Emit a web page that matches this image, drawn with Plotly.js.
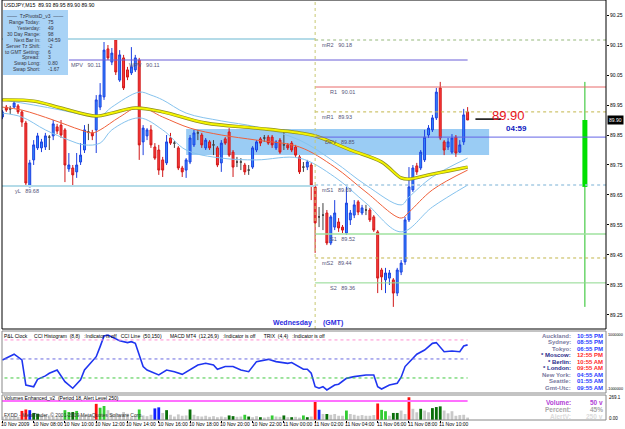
<!DOCTYPE html>
<html><head><meta charset="utf-8">
<script src="https://cdn.plot.ly/plotly-3.0.1.min.js"></script>
<style>html,body{margin:0;padding:0;background:#fff}#chart{width:625px;height:429px}</style>
</head><body><div id="chart"></div><script>
// ---------------- DATA ----------------
const tickLabels = ['10 Nov 2009','10 Nov 08:00','10 Nov 10:00','10 Nov 12:00','10 Nov 14:00','10 Nov 16:00','10 Nov 18:00','10 Nov 20:00','10 Nov 22:00','11 Nov 00:00','11 Nov 02:00','11 Nov 04:00','11 Nov 06:00','11 Nov 08:00','11 Nov 10:00'];
const tickBars = [0,8,16,24,32,40,48,56,64,72,80,88,96,104,112];
const priceTicks = [89.25,89.35,89.45,89.55,89.65,89.75,89.85,89.95,90.05,90.15,90.25];

const open = [89.910,89.943,89.937,89.943,89.947,89.927,89.890,89.677,89.767,89.807,
89.807,89.810,89.843,89.847,89.877,89.883,89.867,89.737,89.740,89.727,
89.760,89.800,89.860,89.857,89.867,89.943,89.977,90.137,90.093,90.167,
90.033,90.107,90.067,90.057,90.067,90.100,89.827,89.847,89.867,89.810,
89.800,89.767,89.757,89.840,89.823,89.807,89.740,89.733,89.760,89.817,
89.857,89.850,89.807,89.827,89.817,89.807,89.757,89.837,89.860,89.793,
89.760,89.760,89.750,89.733,89.743,89.800,89.837,89.840,89.843,89.843,
89.807,89.833,89.817,89.817,89.823,89.810,89.777,89.743,89.743,89.750,
89.677,89.577,89.583,89.590,89.490,89.543,89.560,89.543,89.523,89.567,
89.583,89.627,89.590,89.600,89.600,89.577,89.527,89.400,89.367,89.373,
89.367,89.323,89.393,89.427,89.567,89.667,89.747,89.740,89.767,89.850,
89.867,89.907,90.007,89.827,89.810,89.793,89.843,89.793,89.827,89.927];
const high = [89.933,89.950,89.947,89.963,89.953,89.933,89.897,89.767,89.833,89.857,
89.837,89.857,89.850,89.900,89.887,89.900,89.873,89.790,89.750,89.790,
89.823,89.883,89.887,89.867,89.983,90.023,90.160,90.150,90.140,90.173,
90.133,90.117,90.077,90.143,90.117,90.107,89.883,89.873,89.883,89.823,
89.817,89.777,89.850,89.857,89.830,89.813,89.747,89.773,89.850,89.867,
89.867,89.857,89.840,89.833,89.833,89.813,89.833,89.843,89.873,89.800,
89.777,89.773,89.757,89.750,89.813,89.833,89.843,89.850,89.850,89.850,
89.833,89.840,89.867,89.823,89.830,89.817,89.783,89.760,89.767,89.757,
89.683,89.610,89.623,89.600,89.583,89.633,89.573,89.550,89.677,89.600,
89.633,89.633,89.617,89.617,89.607,89.583,89.533,89.407,89.407,89.400,
89.373,89.407,89.433,89.577,89.743,89.750,89.757,89.800,89.867,89.883,
89.917,90.007,90.027,89.833,89.840,89.853,89.850,89.833,89.937,89.943];
const low = [89.903,89.927,89.920,89.940,89.920,89.877,89.677,89.677,89.750,89.800,
89.793,89.800,89.800,89.833,89.853,89.840,89.693,89.727,89.683,89.707,
89.750,89.790,89.833,89.833,89.790,89.933,89.967,90.100,90.083,90.050,
90.027,90.000,90.033,90.050,90.060,89.767,89.783,89.833,89.807,89.767,
89.717,89.710,89.750,89.817,89.807,89.733,89.710,89.707,89.753,89.810,
89.833,89.807,89.800,89.800,89.783,89.743,89.727,89.817,89.777,89.710,
89.743,89.733,89.717,89.717,89.737,89.793,89.813,89.827,89.817,89.807,
89.800,89.787,89.800,89.800,89.793,89.777,89.720,89.727,89.733,89.633,
89.457,89.543,89.533,89.483,89.483,89.533,89.527,89.523,89.517,89.550,
89.573,89.583,89.583,89.583,89.560,89.527,89.323,89.333,89.323,89.350,
89.277,89.313,89.383,89.417,89.560,89.660,89.717,89.733,89.760,89.840,
89.860,89.900,89.833,89.783,89.800,89.787,89.777,89.790,89.817,89.900];
const close = [89.927,89.933,89.937,89.957,89.927,89.893,89.690,89.757,89.817,89.847,
89.827,89.847,89.843,89.887,89.863,89.850,89.750,89.750,89.717,89.750,
89.783,89.867,89.860,89.847,89.967,89.983,90.133,90.107,90.123,90.060,
90.117,90.007,90.043,90.077,90.107,89.817,89.873,89.867,89.817,89.773,
89.733,89.733,89.827,89.823,89.823,89.740,89.727,89.767,89.840,89.857,
89.857,89.817,89.833,89.807,89.817,89.750,89.823,89.823,89.783,89.743,
89.760,89.760,89.727,89.733,89.807,89.827,89.823,89.840,89.823,89.817,
89.827,89.793,89.817,89.807,89.800,89.783,89.727,89.743,89.760,89.683,
89.557,89.577,89.583,89.490,89.577,89.590,89.540,89.533,89.623,89.590,
89.617,89.593,89.607,89.600,89.567,89.533,89.373,89.377,89.390,89.390,
89.323,89.400,89.423,89.567,89.677,89.740,89.727,89.793,89.843,89.873,
89.907,89.993,89.840,89.800,89.827,89.840,89.790,89.817,89.917,89.900];

// Moving average (yellow) and envelope bands, read at sample bars
const emaBars = [0,8,15,24,28,34,41,52,65,76,80,89,97,102,104,109,114,119];
const emaVals = [89.967,89.963,89.940,89.913,89.923,89.940,89.927,89.890,89.873,89.857,89.847,89.800,89.760,89.707,89.703,89.717,89.730,89.743];
const upBars = [0,8,15,21,25,28,35,38,41,47,56,65,76,85,93,102,104,110,119];
const upVals = [89.967,89.950,89.933,89.917,89.913,89.943,89.993,89.983,89.967,89.923,89.897,89.877,89.833,89.760,89.683,89.617,89.643,89.710,89.773];
const midBars = [0,5,13,20,23,25,30,35,41,48,56,65,76,85,93,102,104,110,119];
const midVals = [89.943,89.933,89.900,89.867,89.857,89.867,89.910,89.943,89.910,89.873,89.850,89.833,89.810,89.743,89.660,89.573,89.593,89.667,89.733];
const loBars = [0,5,11,17,21,25,28,35,41,47,56,65,76,85,93,102,110,119];
const loVals = [89.923,89.910,89.867,89.833,89.817,89.823,89.867,89.907,89.867,89.800,89.773,89.767,89.773,89.710,89.623,89.527,89.610,89.683];

// Pivot levels (today) and yesterday levels
const pivotNames = ['mR2','R1','mR1','DPV','mS1','S1','mS2','S2'];
const pivotLevels = [90.167,90.010,89.927,89.843,89.683,89.520,89.440,89.357];
const pivotText = ['90.18','90.01','89.93','89.85','89.69','89.52','89.44','89.36'];
const yesterdayHigh = 90.17, yesterdayLow = 89.68;
const mpvLevel = 90.10, mpvText = '90.11';
const dayStartBar = 80;
const zoneLow = 89.783, zoneHigh = 89.870, zoneFrom = 47, zoneTo = 124.5;
const lastPrice = 89.90, barTimer = '04:59';
const daily = {open: 89.677, high: 90.027, low: 89.277, close: 89.90, bar: 149};

// CCI line (indicator window)
const cciBars = [0,3,5,6,8,9,11,12,14,16,18,20,21,24,25,26,27,29,30,32,33,34,36,37,40,42,44,46,48,50,52,54,55,57,59,61,63,65,68,70,73,74,77,78,79,80,81,82,83,85,86,88,90,93,95,96,97,99,101,102,103,105,106,108,110,111,113,115,117,118,119];
const cciVals = [-5,25,-5,-137,-146,-107,-89,-75,-58,-119,-154,-110,-58,12,65,121,126,104,96,86,91,82,-40,-58,-84,-58,-67,-81,-58,-32,-23,-32,-54,-40,-40,-58,-67,-14,-2,-14,-23,-19,-54,-54,-75,-146,-154,-146,-163,-137,-133,-102,-93,-84,-84,-146,-158,-137,-128,-96,-40,4,25,47,82,86,38,42,38,68,74];
const cciLevels = [100, 0, -100];

// Volumes
const volume = [46,56,37,51,42,120,139,130,93,83, 60,69,60,51,37,56,130,106,106,120,
65,60,60,46,213,162,185,130,83,60, 69,106,83,37,56,139,60,51,69,153,
167,93,130,69,46,74,56,60,139,69, 51,46,56,42,51,37,46,37,60,51,
42,46,69,46,37,51,37,32,42,60, 46,42,60,37,37,42,32,60,37,46,
243,135,79,79,69,79,56,56,125,79, 69,56,65,56,56,65,218,134,116,56,
93,93,125,79,300,148,102,148,125,102, 157,171,180,125,88,116,56,65,69,32];
const volClass = ('gggggRRBDD'+'ggggggGGDG'+'ggggRGGggg'+'gggggGgggB'+'BgDgggggDg'+
  'ggggggggDD'+'ggGDggDggG'+'ggDgDggGDg'+'RBgDggggGg'+'ggggggRGGg'+'DDggRggDgg'+'DDDggggggg').split('');
const volAlert = 250;

const infoLabels = ['Range Today:','Yesterday:','30 Day Range:','Next Bar In:','Server Tz Shift:','to GMT Setting:','Spread:','Swap Long:','Swap Short:'];
const infoValues = ['75','49','98','04:59','-2','6','3','0.80','-1.67'];
const cities = ['Auckland:','Sydney:','Tokyo:','* Moscow:','* Berlin:','* London:','New York:','Seattle:','Gmt-Utc:'];
const cityTimes = ['10:55 PM','08:55 PM','06:55 PM','12:55 PM','10:55 AM','09:55 AM','04:55 AM','01:55 AM','09:55 AM'];
const cityStar = [0,0,0,1,1,1,0,0,0];

// ---------------- DRAWING ----------------
const F = 'Liberation Sans, Arial, sans-serif';
const W = 625, H = 429, ML = 2, MR = 19, MT = 0, MB = 9;
const PW = W - ML - MR, PH = H - MT - MB;
const px = p => (p - ML) / PW;           // pixel x -> paper
const py = p => (PH - (p - MT)) / PH;    // pixel y -> paper
const idx = open.map((_, i) => i);
const lastBar = idx[idx.length - 1];

function pick(pred) {
  const o = {x: [], open: [], high: [], low: [], close: []};
  idx.forEach(i => { if (pred(i)) { o.x.push(i); o.open.push(open[i]); o.high.push(high[i]); o.low.push(low[i]); o.close.push(close[i]); } });
  return o;
}
function candle(d, lc, fc) {
  return Object.assign({type: 'candlestick', xaxis: 'x', yaxis: 'y', whiskerwidth: 0, hoverinfo: 'skip',
    increasing: {line: {color: lc, width: 1}, fillcolor: fc},
    decreasing: {line: {color: lc, width: 1}, fillcolor: fc}}, d);
}
const traces = [];
traces.push(candle(pick(i => close[i] > open[i]), '#1c3fe0', '#2f8cff'));
traces.push(candle(pick(i => close[i] < open[i]), '#d01818', '#ff3b3b'));
traces.push(candle(pick(i => close[i] === open[i]), '#404040', '#404040'));

const line = (x, y, color, width, shape) => ({type: 'scatter', mode: 'lines', x, y, xaxis: 'x', yaxis: 'y', hoverinfo: 'skip', line: {color, width, shape: shape || 'linear'}});
traces.push(line(upBars, upVals, '#86c3ee', 1, 'spline'));
traces.push(line(loBars, loVals, '#86c3ee', 1, 'spline'));
traces.push(line(midBars, midVals, '#f0603a', 1, 'spline'));
traces.push(line(emaBars, emaVals, '#8f8f20', 3.4, 'spline'));
traces.push(line(emaBars, emaVals, '#f4f400', 2.0, 'spline'));

// daily candle on the right
traces.push(line([daily.bar, daily.bar], [daily.low, daily.high], '#22c022', 1));
traces.push(line([daily.bar, daily.bar], [daily.open, daily.close], '#00e000', 5));

// CCI
traces.push({type: 'scatter', mode: 'lines', x: cciBars, y: cciVals, xaxis: 'x', yaxis: 'y2', hoverinfo: 'skip', line: {color: '#1f35f0', width: 1.6}});

// Volume
const volColors = {g: '#c9c9c9', G: '#33cc33', D: '#0a6f0a', R: '#ff1010', B: '#1020ff'};
traces.push({type: 'bar', x: idx, y: volume, xaxis: 'x', yaxis: 'y3', width: 0.72, hoverinfo: 'skip',
  marker: {color: volClass.map(c => volColors[c]), line: {width: 0}}});

const shapes = [];
shapes.push({type: 'rect', xref: 'x', yref: 'y', x0: zoneFrom, x1: zoneTo, y0: zoneLow, y1: zoneHigh, layer: 'below', line: {width: 0}, fillcolor: 'rgba(92,172,238,0.62)'});
[yesterdayHigh, yesterdayLow].forEach(v => shapes.push({type: 'line', xref: 'x', yref: 'y', x0: -1, x1: dayStartBar, y0: v, y1: v, line: {color: '#b4dbe8', width: 2}}));
const pivStyle = {mR2: ['#b9cfa8', 1.5, 'dot'], R1: ['#e86a6a', 1, 'solid'], mR1: ['#c2b64a', 1, 'dot'], DPV: ['#6464e6', 1, 'solid'], mS1: ['#a6cbe3', 1.5, 'dot'], S1: ['#9fe29f', 1.5, 'solid'], mS2: ['#c2b64a', 1, 'dot'], S2: ['#8ed88e', 1, 'solid']};
pivotNames.forEach((n, k) => {
  const s = pivStyle[n];
  shapes.push({type: 'line', xref: 'x', yref: 'y', x0: dayStartBar, x1: 160, y0: pivotLevels[k], y1: pivotLevels[k], line: {color: s[0], width: s[1], dash: s[2]}});
});
shapes.push({type: 'line', xref: 'x', yref: 'y', x0: 17, x1: lastBar, y0: mpvLevel, y1: mpvLevel, line: {color: '#6a5fd8', width: 1}});
shapes.push({type: 'line', xref: 'x', yref: 'paper', x0: dayStartBar, x1: dayStartBar, y0: py(329), y1: 1, line: {color: '#c8c872', width: 1, dash: 'dot'}});
shapes.push({type: 'line', xref: 'x', yref: 'y', x0: 121, x1: 127.5, y0: lastPrice + 0.003, y1: lastPrice + 0.003, line: {color: '#000', width: 1.5}});
const cciCol = ['#ff8fd0', '#6a6ae0', '#40c840'];
cciLevels.forEach((v, k) => shapes.push({type: 'line', xref: 'x', yref: 'y2', x0: -1, x1: lastBar, y0: v, y1: v, line: {color: cciCol[k], width: 1, dash: 'dot'}}));
shapes.push({type: 'line', xref: 'x', yref: 'y3', x0: -1, x1: lastBar, y0: volAlert, y1: volAlert, line: {color: '#ff70ff', width: 2}});
shapes.push({type: 'rect', xref: 'paper', yref: 'paper', x0: px(3), x1: px(68), y0: py(75), y1: py(10), line: {width: 0}, fillcolor: '#a9d3f6'});
[['y', '#000'], ['y2', '#888'], ['y3', '#888']].forEach(([a, c]) => shapes.push({type: 'rect', xref: 'paper', yref: a + ' domain', x0: 0, x1: 1, y0: 0, y1: 1, line: {color: c, width: 1}}));

const ann = [];
const A = (x, y, text, o) => ann.push(Object.assign({xref: 'paper', yref: 'paper', x: px(x), y: py(y), text, showarrow: false, xanchor: 'left', yanchor: 'middle', borderpad: 0, font: {family: F, size: 5, color: '#000'}}, o || {}));
A(3, 5, 'USDJPY,M15  89.93 89.95 89.90 89.90', {font: {family: F, size: 5.2, color: '#000'}});
A(35, 16, '——  TzPivotsD_v3  ——', {xanchor: 'center', font: {family: F, size: 5, color: '#334'}});
infoLabels.forEach((t, k) => {
  const yy = 22 + k * 5.9;
  A(41, yy, t, {xanchor: 'right', font: {family: F, size: 5, color: '#334'}});
  A(47, yy, infoValues[k], {font: {family: F, size: 5, color: '#334'}});
});
const pivShift = {mR2: 6, R1: 14, mR1: 6, DPV: 9, mS1: 6, S1: 14, mS2: 6, S2: 14};
const lab = (x, y, text, xs, o) => ann.push(Object.assign({xref: 'x', yref: 'y', x, y, xshift: xs, yshift: -1, xanchor: 'left', yanchor: 'top', showarrow: false, borderpad: 0, text, font: {family: F, size: 5.5, color: '#55557a'}}, o || {}));
pivotNames.forEach((n, k) => lab(dayStartBar, pivotLevels[k], n + '   ' + pivotText[k], pivShift[n]));
lab(17, mpvLevel, 'MPV   ' + mpvText, 1);
lab(32, mpvLevel, 'WPV   ' + mpvText, 1);
lab(3, yesterdayLow, 'yL   ' + yesterdayLow.toFixed(2), 0);
ann.push({xref: 'x', yref: 'y', x: 125, y: lastPrice, yshift: 5, xanchor: 'left', yanchor: 'middle', showarrow: false, borderpad: 0, text: lastPrice.toFixed(2), font: {family: F, size: 13, color: '#e8141e'}});
ann.push({xref: 'x', yref: 'y', x: 128.5, y: lastPrice, yshift: -8, xanchor: 'left', yanchor: 'middle', showarrow: false, borderpad: 0, text: '<b>' + barTimer + '</b>', font: {family: F, size: 8, color: '#1020c0'}});
ann.push({xref: 'paper', yref: 'y', x: 1, y: lastPrice, xanchor: 'left', yanchor: 'middle', showarrow: false, text: lastPrice.toFixed(2), bgcolor: '#000', borderpad: 1, xshift: 1, font: {family: F, size: 5, color: '#fff'}});
// x-axis labels, placed at the bars' positions on the shared x scale
tickLabels.forEach((t, k) => ann.push({xref: 'x', yref: 'paper', x: tickBars[k], y: py(424), xanchor: 'left', yanchor: 'middle', xshift: -2, showarrow: false, borderpad: 0, text: t, font: {family: F, size: 5, color: '#000'}}));
A(313, 323, '<b>Wednesday</b>', {xanchor: 'right', font: {family: F, size: 7, color: '#2b2be0'}});
A(322, 323, '<b>(GMT)</b>', {font: {family: F, size: 7, color: '#2b2be0'}});
A(3, 336, 'P&L Clock     CCI Histogram  (8,8)   :Indicator is off   CCI Line  (50,150)      MACD MT4  (12,26,9)   :Indicator is off      TRIX  (4,4)   :Indicator is off', {font: {family: F, size: 5, color: '#000'}});
cities.forEach((c, k) => {
  const yy = 336 + k * 6.45;
  A(572, yy, '<b>' + c + '</b>', {xanchor: 'right', font: {family: F, size: 6, color: cityStar[k] ? '#2a2a8a' : '#7a7aa0'}});
  A(604, yy, '<b>' + cityTimes[k] + '</b>', {xanchor: 'right', font: {family: F, size: 6, color: cityStar[k] ? '#ff2a2a' : '#2840ff'}});
});
A(3, 398, 'Volumes Enhanced_v2  (Period 18, Alert Level 250)', {font: {family: F, size: 5, color: '#000'}});
A(3, 415, 'FXDD - MetaTrader, © 2001-2009 MetaQuotes Software Corp.', {font: {family: F, size: 5, color: '#333'}});
A(572, 402, '<b>Volume:</b>', {xanchor: 'right', font: {family: F, size: 6.5, color: '#b23fd6'}});
A(604, 402, '<b>50 v</b>', {xanchor: 'right', font: {family: F, size: 6.5, color: '#b23fd6'}});
A(572, 409, '<b>Percent:</b>', {xanchor: 'right', font: {family: F, size: 6.5, color: '#a8a8a8'}});
A(604, 409, '<b>45%</b>', {xanchor: 'right', font: {family: F, size: 6.5, color: '#a8a8a8'}});
A(572, 416, '<b>AlertV:</b>', {xanchor: 'right', font: {family: F, size: 6.5, color: '#dcdcdc'}});
A(604, 416, '<b>250 v</b>', {xanchor: 'right', font: {family: F, size: 6.5, color: '#dcdcdc'}});
A(624, 335, '1000000', {xanchor: 'right', font: {family: F, size: 3.8, color: '#000'}});
A(624, 389, '-1000000', {xanchor: 'right', font: {family: F, size: 3.8, color: '#000'}});
A(608, 397, '269.1', {font: {family: F, size: 4.5, color: '#000'}});
A(608, 418, '0.00', {font: {family: F, size: 4.5, color: '#000'}});

const layout = {
  width: W, height: H, margin: {l: ML, r: MR, t: MT, b: MB}, showlegend: false, hovermode: false,
  paper_bgcolor: '#fff', plot_bgcolor: '#fff', dragmode: false,
  xaxis: {range: [-0.1, 154.4], anchor: 'y3', tickmode: 'array', tickvals: tickBars, showticklabels: false,
    ticks: 'outside', ticklen: 2, tickcolor: '#000',
    showgrid: false, zeroline: false, showline: false, rangeslider: {visible: false}, fixedrange: true},
  yaxis: {domain: [py(329), 1], range: [89.2033, 90.30], side: 'right', tickmode: 'array', tickvals: priceTicks,
    ticktext: priceTicks.map(v => v.toFixed(2)), ticks: 'outside', ticklen: 2, tickcolor: '#000',
    tickfont: {family: F, size: 5, color: '#000'}, showgrid: false, zeroline: false, showline: false, fixedrange: true},
  yaxis2: {domain: [py(393), py(331)], range: [-179, 147], side: 'right', showticklabels: false, ticks: '', showgrid: false, zeroline: false, fixedrange: true},
  yaxis3: {domain: [0, py(395)], range: [0, 330], side: 'right', showticklabels: false, ticks: '', showgrid: false, zeroline: false, fixedrange: true},
  shapes, annotations: ann
};
Plotly.newPlot('chart', traces, layout, {staticPlot: true, displayModeBar: false});
</script></body></html>
